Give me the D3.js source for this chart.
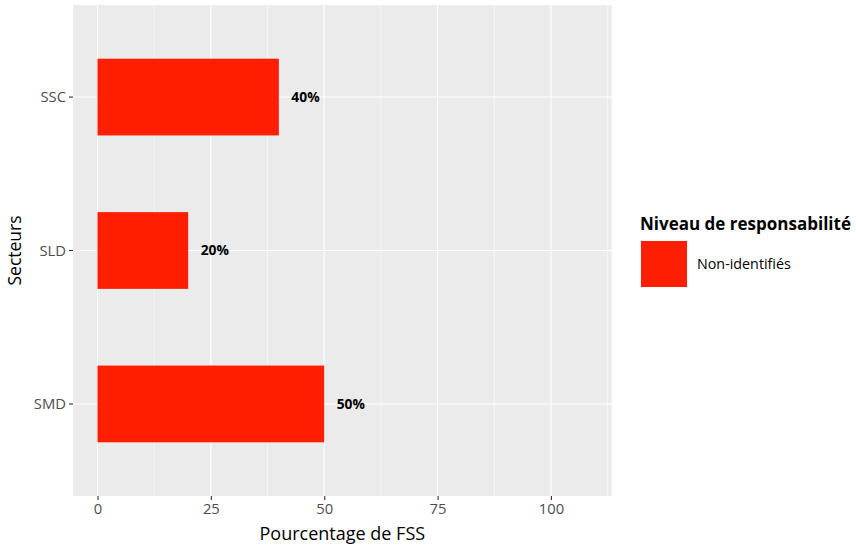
<!DOCTYPE html>
<html><head><meta charset="utf-8">
<script src="https://cdn.jsdelivr.net/npm/d3@7"></script>
<style>body{margin:0;background:#fff}text{font-family:"Open Sans",sans-serif}</style>
</head><body>
<svg id="c" width="856" height="549"></svg>
<script>
const categories = ["SSC", "SLD", "SMD"];
const values = [40, 20, 50];
const labels = ["40%", "20%", "50%"];
const xTicks = [0, 25, 50, 75, 100];
const xMinor = [12.5, 37.5, 62.5, 87.5, 112.5];
const legendTitle = "Niveau de responsabilité";
const legendItems = ["Non-identifiés"];
const barColor = "#FF1E00";

const svg = d3.select("#c");
const L = 73, R = 611.7, T = 5, B = 496;
const x = d3.scaleLinear().domain([-5.4, 113.4]).range([L, R]);
const yc = d3.scaleLinear().domain([0.4, 3.6]).range([T, B]);
const yPos = c => yc(categories.indexOf(c) + 1);
const bandPx = yc(1) - yc(0);

svg.append("rect").attr("x", L).attr("y", T).attr("width", R - L).attr("height", B - T).attr("fill", "#EBEBEB");
const g = svg.append("g");
xMinor.forEach(v => g.append("line").attr("x1", x(v)).attr("x2", x(v)).attr("y1", T).attr("y2", B).attr("stroke", "#fff").attr("stroke-width", 0.55));
xTicks.forEach(v => g.append("line").attr("x1", x(v)).attr("x2", x(v)).attr("y1", T).attr("y2", B).attr("stroke", "#fff").attr("stroke-width", 1.1));
categories.forEach(c => g.append("line").attr("x1", L).attr("x2", R).attr("y1", yPos(c)).attr("y2", yPos(c)).attr("stroke", "#fff").attr("stroke-width", 1.1));

categories.forEach((c, i) => {
  svg.append("rect").attr("x", x(0)).attr("width", x(values[i]) - x(0))
    .attr("y", yPos(c) - bandPx * 0.25).attr("height", bandPx * 0.5).attr("fill", barColor);
  svg.append("text").attr("x", x(values[i]) + 12.5).attr("y", yPos(c)).attr("dy", "0.35em")
    .attr("font-size", 13.8).attr("font-weight", "bold").attr("fill", "#000").text(labels[i]);
});

const xa = svg.append("g").attr("transform", `translate(0,${B})`)
  .call(d3.axisBottom(x).tickValues(xTicks).tickSize(4).tickPadding(3).tickFormat(d3.format("d")));
xa.select(".domain").remove();
xa.selectAll("line").attr("stroke", "#333").attr("stroke-width", 1.1);
xa.selectAll("text").attr("font-size", 14.8).attr("fill", "#4D4D4D").attr("font-family", "Open Sans");

const ya = svg.append("g").attr("transform", `translate(${L},0)`);
categories.forEach(c => {
  ya.append("line").attr("x1", -4).attr("x2", 0).attr("y1", yPos(c)).attr("y2", yPos(c)).attr("stroke", "#333").attr("stroke-width", 1.1);
  ya.append("text").attr("x", -7).attr("y", yPos(c)).attr("dy", "0.35em").attr("text-anchor", "end")
    .attr("font-size", 14.8).attr("fill", "#4D4D4D").text(c);
});

svg.append("text").attr("x", (L + R) / 2).attr("y", 540).attr("text-anchor", "middle")
  .attr("font-size", 18).attr("fill", "#000").text("Pourcentage de FSS");
svg.append("text").attr("transform", `translate(21,${(T + B) / 2}) rotate(-90)`).attr("text-anchor", "middle")
  .attr("font-size", 17.5).attr("fill", "#000").text("Secteurs");

svg.append("text").attr("x", 640).attr("y", 230).attr("font-size", 17).attr("font-weight", "bold").attr("fill", "#000").text(legendTitle);
legendItems.forEach((t, i) => {
  svg.append("rect").attr("x", 641).attr("y", 241 + i * 46).attr("width", 46).attr("height", 46).attr("fill", barColor);
  svg.append("text").attr("x", 697).attr("y", 264 + i * 46).attr("dy", "0.35em").attr("font-size", 14.3).attr("fill", "#000").text(t);
});
</script>
</body></html>
